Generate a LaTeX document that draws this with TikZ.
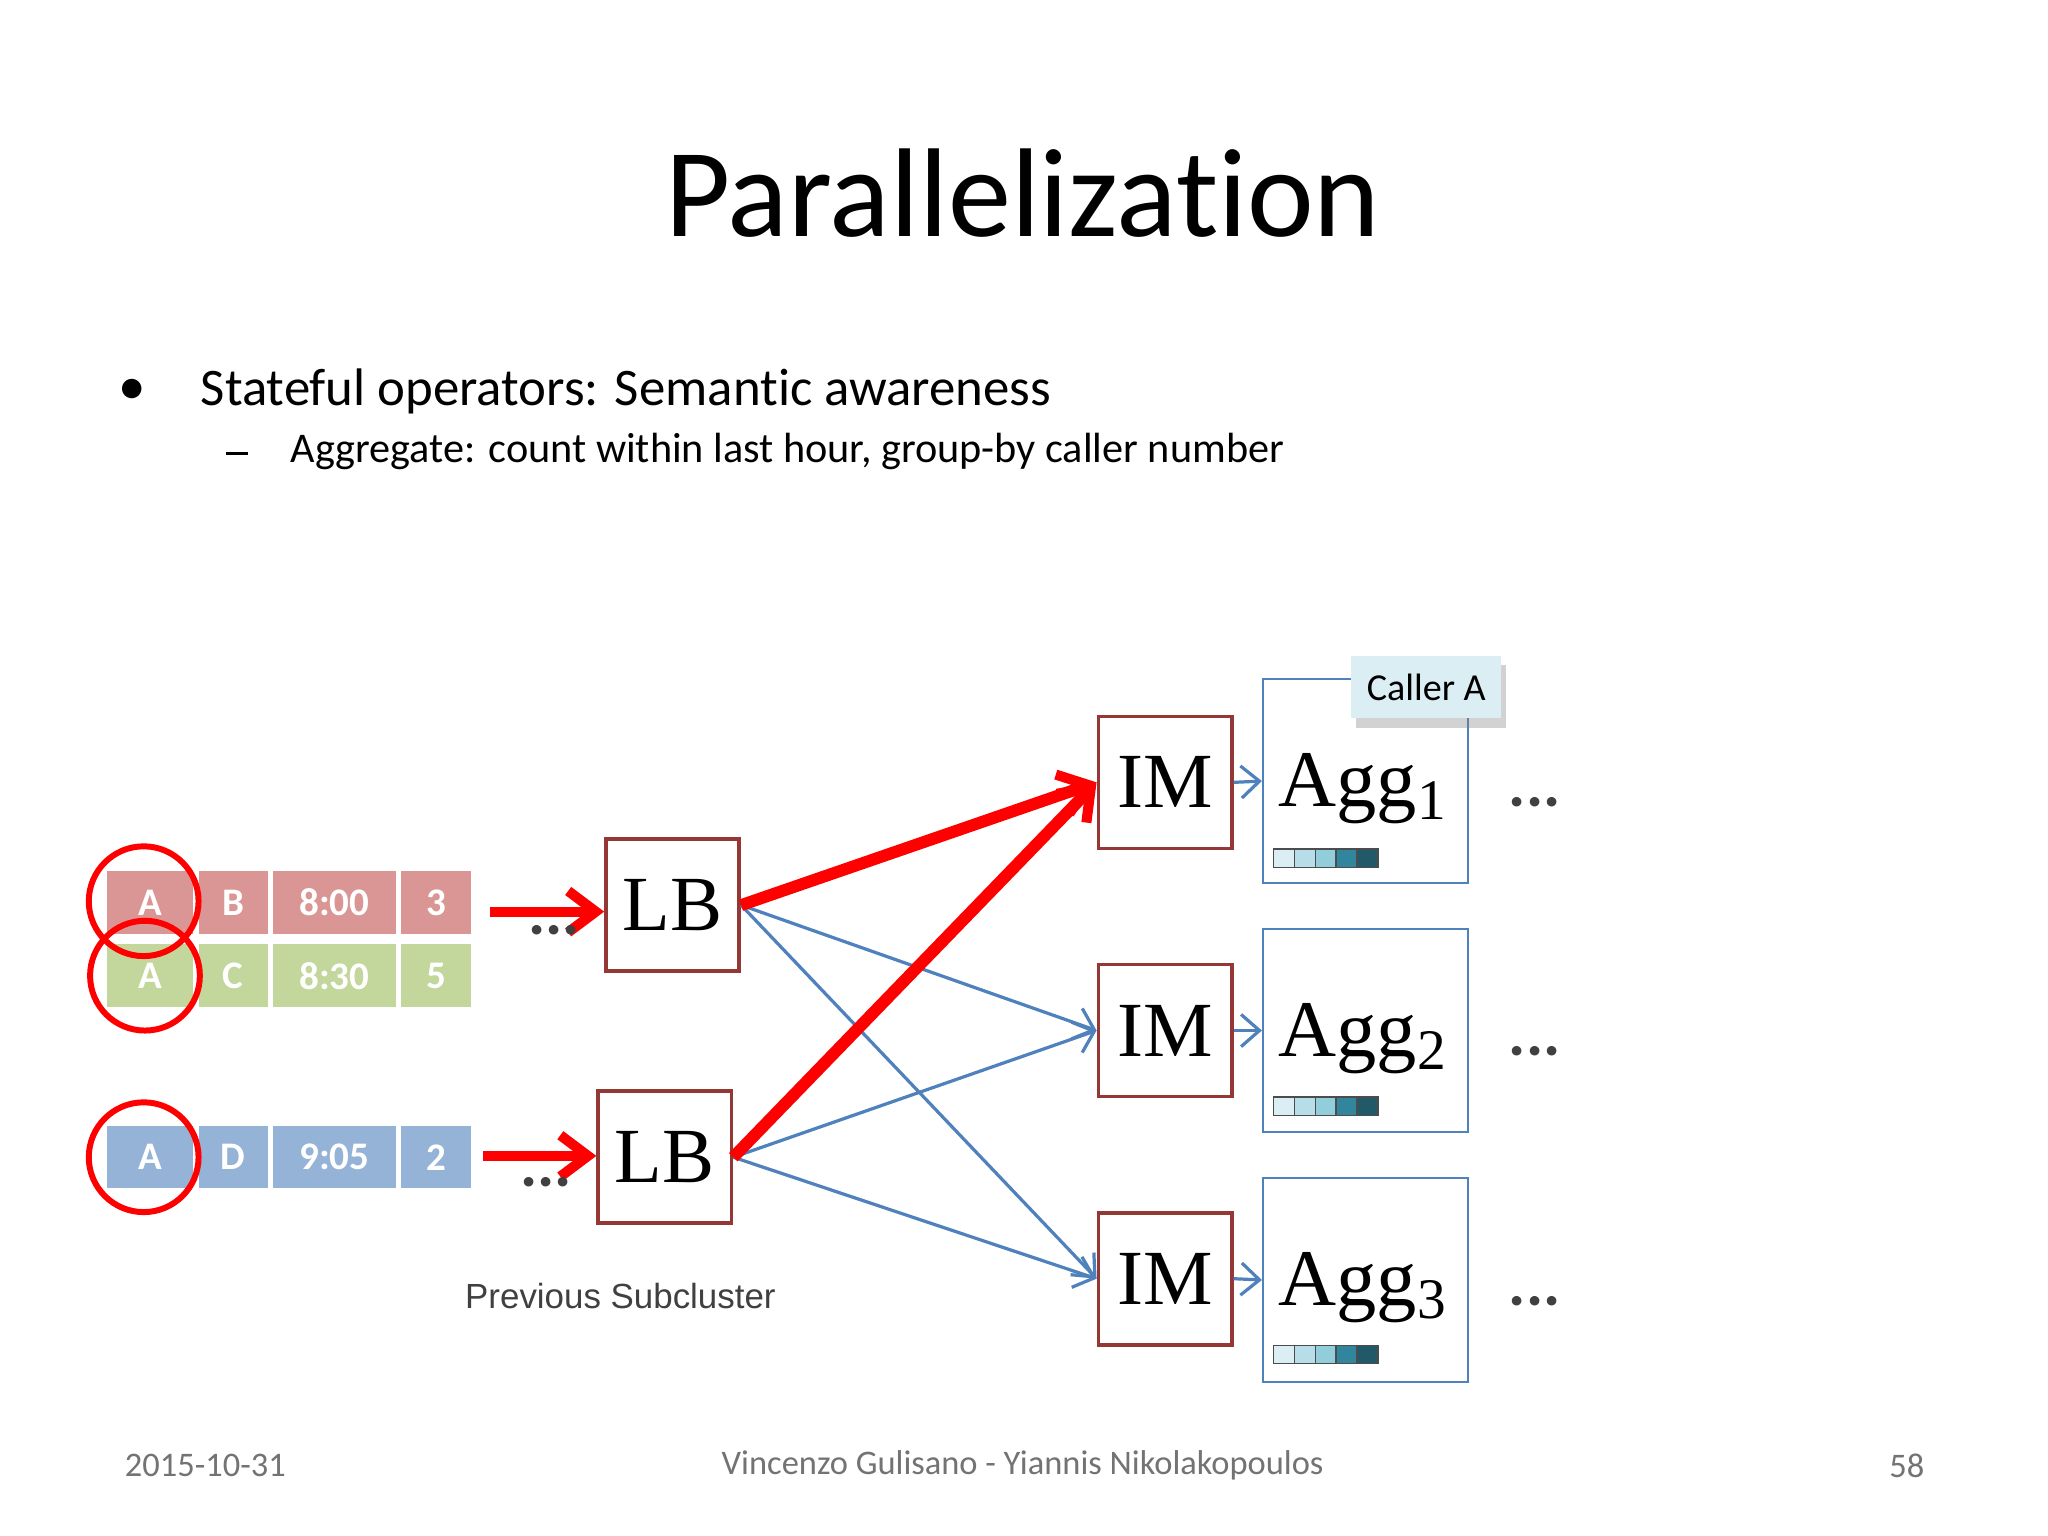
\documentclass[tikz,border=0pt]{standalone}
\usepackage{fontspec}
\setmainfont{Carlito}[Ligatures={NoCommon}]
\newfontfamily\serifx{Liberation Serif}
\newfontfamily\arialx{Liberation Sans}
\usetikzlibrary{arrows.meta,shadows}
\definecolor{rowr}{HTML}{D99694}
\definecolor{rowg}{HTML}{C3D69B}
\definecolor{rowb}{HTML}{95B3D7}
\definecolor{boxred}{HTML}{953735}
\definecolor{aggblue}{HTML}{4F81BD}
\definecolor{callfill}{HTML}{DBEEF4}
\definecolor{s1}{HTML}{DAEEF3}
\definecolor{s2}{HTML}{B7DEE8}
\definecolor{s3}{HTML}{92CDDC}
\definecolor{s4}{HTML}{31859C}
\definecolor{s5}{HTML}{215968}
\tikzset{
 cell/.style={draw=white,line width=1.2pt,fill=#1,text=white,font=\fontsize{8.5}{10}\selectfont\bfseries},
 opbox/.style={draw=boxred,line width=0.8pt,minimum width=1.02cm,minimum height=1.01cm,inner sep=0pt,font=\serifx\fontsize{17}{18}\selectfont},
 aggbox/.style={draw=aggblue,line width=0.45pt,minimum width=1.57cm,minimum height=1.56cm,inner sep=0pt},
 circ/.style={draw=red,line width=1.3pt,circle,minimum size=0.84cm,inner sep=0pt},
 redarr/.style={draw=red,line width=2.2pt,-{Straight Barb[length=6pt,width=9pt,line width=2.2pt]}},
 bluearr/.style={draw=aggblue,line width=0.7pt,-{Straight Barb[length=4pt,width=7pt]}},
 dots/.style={font=\fontsize{14}{14}\selectfont\bfseries,text=black!75}
}
\begin{document}
\begin{tikzpicture}[x=0.01cm,y=-0.01cm]
\useasboundingbox (0,0) rectangle (1568,1176);
\fill[white] (0,0) rectangle (1568,1176);
\node (title) at (783,148) {\fontsize{27.5}{32}\selectfont Parallelization};
\node (bul) at (101,300) {\fontsize{12}{14}\selectfont •};
\node[anchor=west,inner sep=0pt] (b1) at (153,300) {\fontsize{11.5}{14}\selectfont Stateful operators: Semantic awareness};
\draw[line width=0.6pt] (173,347) -- (190,347);
\node[anchor=west,inner sep=0pt] (b2) at (222,346) {\fontsize{9.2}{12}\selectfont Aggregate: count within last hour, group-by caller number};
% rows
\foreach \y/\c/\a/\b/\t/\n [count=\i] in {691/rowr/A/B/8:00/3, 747/rowg/A/C/8:30/5, 886/rowb/A/D/9:05/2}{
 \node[cell=\c,minimum width=0.70cm,minimum height=0.52cm] (r\i a) at (115,\y) {\a};
 \node[cell=\c,minimum width=0.57cm,minimum height=0.52cm] (r\i b) at (178.5,\y) {\b};
 \node[cell=\c,minimum width=0.98cm,minimum height=0.52cm] (r\i c) at (256,\y) {\t};
 \node[cell=\c,minimum width=0.58cm,minimum height=0.52cm] (r\i d) at (334,\y) {\n};
}
\node[circ] (c1) at (110,690) {};
\node[circ] (c2) at (111,747) {};
\node[circ] (c3) at (110,886) {};
% LB
\node[opbox] (lb1) at (515,693) {LB};
\node[opbox] (lb2) at (509,886) {LB};
\coordinate (s1) at (375,698);
\coordinate (s2) at (370,885);
\draw[redarr] (s1) -- (lb1.west|-s1);
\draw[redarr] (s2) -- (lb2.west|-s2);
\node[dots] (d1) at (424,712) {...};
\node[dots] (d2) at (418,905) {...};
% IM
\foreach \y [count=\i] in {599,789,979}{
 \node[opbox] (im\i) at (892,\y) {IM};
}
\foreach \y/\yy [count=\i] in {598/650,789/840,980/1030}{
 \node[aggbox] (agg\i) at (1045.5,\y) {};
 \node[font=\serifx\fontsize{17.5}{20}\selectfont] (at\i) at (1043,\y+6) {Agg\raisebox{-0.35ex}{\fontsize{12.5}{14}\selectfont\i}};
 \foreach \k/\cc in {0/s1,1/s2,2/s3,3/s4,4/s5}{
   \draw[black!70,line width=0.3pt,fill=\cc] (975+16*\k,\yy) rectangle ++(16,14);
 }
 \draw[bluearr] (im\i.east) -- (agg\i.west);
 \node[dots] (e\i) at (1175,\y+16) {...};
}
\node[fill=callfill,drop shadow={opacity=0.35,shadow xshift=1pt,shadow yshift=-2pt},minimum width=1.15cm,minimum height=0.48cm,inner sep=0pt,font=\fontsize{8.3}{10}\selectfont] (caller) at (1092,526) {Caller A};
% connectors
\draw[bluearr] (lb1.east) -- (im2.west);
\draw[bluearr] (lb1.east) -- (im3.west);
\draw[bluearr] (lb2.east) -- (im2.west);
\draw[bluearr] (lb2.east) -- (im3.west);
\draw[redarr,line width=2.6pt] (lb1.east) -- (im1.west);
\draw[redarr,line width=2.6pt] (lb2.east) -- (im1.west);
\node[font=\arialx\fontsize{7.6}{10}\selectfont,text=black!75] (prev) at (475,992) {Previous Subcluster};
% footer
\node[anchor=west,inner sep=0pt,text=black!55,font=\fontsize{7.5}{10}\selectfont] (date) at (95,1122) {2015-10-31};
\node[text=black!55,font=\fontsize{7.5}{10}\selectfont] (auth) at (783,1122) {Vincenzo Gulisano - Yiannis Nikolakopoulos};
\node[text=black!55,font=\fontsize{7.5}{10}\selectfont] (pg) at (1460,1122) {58};
\end{tikzpicture}
\end{document}
